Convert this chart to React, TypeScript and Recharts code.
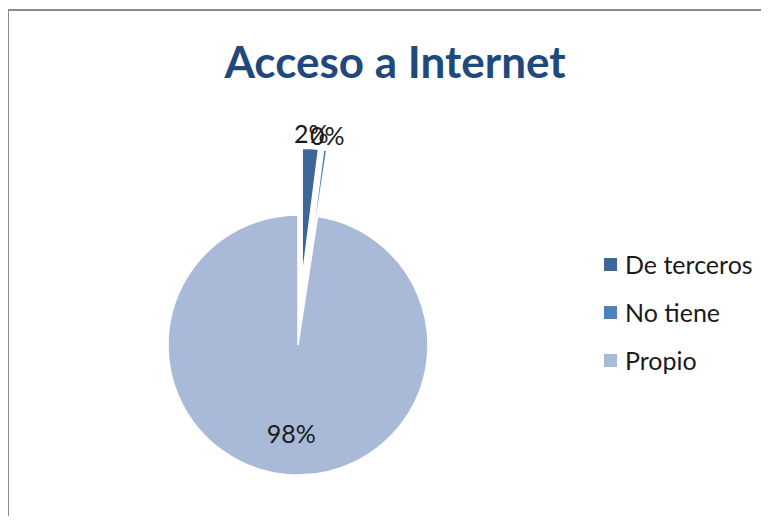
import React from "react";
import { Legend, Pie, PieChart, Sector } from "recharts";

const categories = ["De terceros", "No tiene", "Propio"];
const shares = [2.0, 0.4, 97.6];
const exploded = [true, true, false];

const COLORS = ["#3E6699", "#4F81BD", "#A9BAD9"];
const RADIAN = Math.PI / 180;
const EXPLODE = 67;
const FONT = "Lato, 'Open Sans', sans-serif";

const data = categories.map((name, i) => ({
  name,
  value: shares[i],
  exploded: exploded[i],
  fill: COLORS[i]
}));

function ExplodedSector(props: any) {
  const { cx, cy, midAngle, payload } = props;
  const off = payload?.exploded ? EXPLODE : 0;
  const dx = Math.cos(-midAngle * RADIAN) * off;
  const dy = Math.sin(-midAngle * RADIAN) * off;
  return <Sector {...props} cx={cx + dx} cy={cy + dy} stroke="#fff" strokeWidth={1.5} />;
}

function renderLabel(props: any) {
  const { cx, cy, midAngle, outerRadius, percent, payload } = props;
  const r = payload?.exploded ? outerRadius + EXPLODE + 15 : outerRadius * 0.68;
  const x = cx + Math.cos(-midAngle * RADIAN) * r;
  const y = cy + Math.sin(-midAngle * RADIAN) * r;
  return (
    <text x={x} y={y} textAnchor="middle" dominantBaseline="central" fill="#1a1a1a" fontSize={25} fontFamily={FONT}>
      {`${Math.round(percent * 100)}%`}
    </text>
  );
}

function LegendList({ payload }: any) {
  return (
    <div style={{ fontFamily: FONT, fontSize: 25, color: "#1a1a1a" }}>
      {(payload || []).map((item: any) => (
        <div key={item.value} style={{ display: "flex", alignItems: "center", height: 48 }}>
          <span style={{ width: 13, height: 13, background: item.color, marginRight: 8, display: "inline-block" }} />
          {item.value}
        </div>
      ))}
    </div>
  );
}

export default function App() {
  return (
    <div style={{ width: 753, height: 508, overflow: "hidden", position: "relative" }}>
      <div
        style={{
          position: "absolute",
          left: -1,
          top: 1,
          width: 800,
          height: 560,
          border: "2px solid #8a8a8a",
          boxSizing: "border-box",
          background: "#fff"
        }}
      />
      <div style={{ position: "absolute", left: 0, top: 0 }}>
        <div
          style={{
            position: "absolute",
            left: 0,
            width: 774,
            top: 28,
            textAlign: "center",
            fontFamily: FONT,
            fontWeight: 700,
            fontSize: 44,
            color: "#1F497D",
            lineHeight: "50px"
          }}
        >
          Acceso a Internet
        </div>
        <PieChart width={774} height={520}>
          <Pie
            data={data}
            dataKey="value"
            nameKey="name"
            cx={285}
            cy={332}
            outerRadius={130}
            startAngle={90}
            endAngle={-270}
            shape={ExplodedSector}
            label={renderLabel}
            labelLine={false}
            stroke="#fff"
            isAnimationActive={false}
          />
          <Legend
            layout="vertical"
            verticalAlign="top"
            align="right"
            content={<LegendList />}
            wrapperStyle={{ left: 596, top: 232, width: 175 }}
          />
        </PieChart>
      </div>
    </div>
  );
}
